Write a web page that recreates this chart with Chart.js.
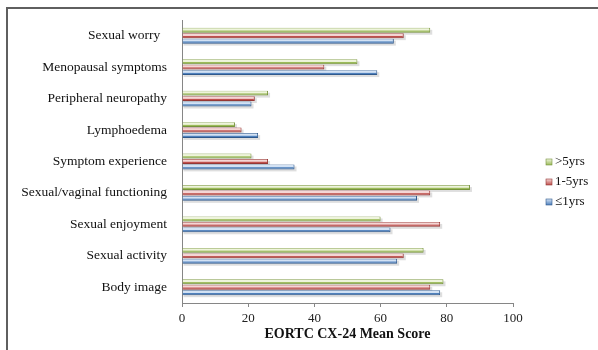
<!DOCTYPE html>
<html lang="en">
<head>
  <meta charset="UTF-8" />
  <title>EORTC CX-24</title>
  <script src="https://cdn.jsdelivr.net/npm/chart.js"></script>
  <style>
    html, body { margin: 0; padding: 0; background: #fff; }
    .quadro {
      position: absolute; left: 6px; top: 7px; width: 600px; height: 360px;
      border: 2px solid #5f5f5f; box-sizing: border-box;
    }
    .grafico { position: absolute; left: 0; top: 0; width: 598px; height: 350px; }
  </style>
</head>
<body>
  <div class="quadro"></div>
  <div class="grafico"><canvas id="graficoCx24" width="598" height="350"></canvas></div>

  <script>
    // categorias de cima para baixo
    var categorias = [
      'Sexual worry  ', 'Menopausal symptoms', 'Peripheral neuropathy', 'Lymphoedema',
      'Symptom experience', 'Sexual/vaginal functioning', 'Sexual enjoyment',
      'Sexual activity', 'Body image'
    ];
    var nomesSeries = ['>5yrs', '1-5yrs', '\u22641yrs'];

    var mais5anos = [75, 53, 26, 16, 21, 87, 60, 73, 79];
    var de1a5anos = [67, 43, 22, 18, 26, 75, 78, 67, 75];
    var ate1ano = [64, 59, 21, 23, 34, 71, 63, 65, 78];

    var ticksX = [0, 20, 40, 60, 80, 100];

    // cores: base, claro (brilho) e borda
    var cores = [
      { base: '#9bbb59', claro: '#eef4dc', borda: '#77933c' },
      { base: '#c0504d', claro: '#f4d6d5', borda: '#953735' },
      { base: '#4f81bd', claro: '#d3e2f4', borda: '#30598c' }
    ];

    var fonte = "'Liberation Serif', 'Times New Roman', serif";

    // brilho em cima de cada barra + sombra
    const brilhoBarras = {
      id: 'brilhoBarras',
      beforeDatasetsDraw(chart) {
        const ctx = chart.ctx;
        chart.data.datasets.forEach(function (ds, i) {
          chart.getDatasetMeta(i).data.forEach(function (el) {
            const p = el.getProps(['x', 'y', 'base', 'height'], true);
            ctx.save();
            ctx.fillStyle = 'rgba(0,0,0,0.13)';
            ctx.fillRect(p.base + 1, p.y - p.height / 2 + 2, p.x - p.base + 1, p.height);
            ctx.restore();
          });
        });
      },
      afterDatasetsDraw(chart) {
        const ctx = chart.ctx;
        chart.data.datasets.forEach(function (ds, i) {
          chart.getDatasetMeta(i).data.forEach(function (el) {
            const p = el.getProps(['x', 'y', 'base', 'height'], true);
            const topo = p.y - p.height / 2;
            ctx.save();
            ctx.fillStyle = cores[i].claro;
            ctx.fillRect(p.base + 0.5, topo + 0.5, p.x - p.base - 1.5, p.height * 0.45);
            ctx.restore();
          });
        });
      }
    };

    // legenda à direita
    const legendaDireita = {
      id: 'legendaDireita',
      afterDraw(chart) {
        const ctx = chart.ctx;
        ctx.save();
        ctx.font = '13px ' + fonte;
        ctx.textBaseline = 'middle';
        chart.data.datasets.forEach(function (ds, i) {
          const y = 162 + i * 20;
          const g = ctx.createLinearGradient(0, y - 3, 0, y + 3);
          g.addColorStop(0, cores[i].claro);
          g.addColorStop(1, cores[i].base);
          ctx.fillStyle = g;
          ctx.fillRect(546, y - 3, 6, 6);
          ctx.strokeStyle = cores[i].borda;
          ctx.lineWidth = 0.6;
          ctx.strokeRect(546, y - 3, 6, 6);
          ctx.fillStyle = '#111';
          ctx.fillText(ds.label, 555, y);
        });
        ctx.restore();
      }
    };

    var dados = {
      labels: categorias,
      datasets: [mais5anos, de1a5anos, ate1ano].map(function (serie, i) {
        return {
          label: nomesSeries[i],
          data: serie,
          backgroundColor: cores[i].base,
          borderColor: cores[i].borda,
          borderWidth: 1,
          categoryPercentage: 0.52,
          barPercentage: 0.9
        };
      })
    };

    const config = {
      type: 'bar',
      data: dados,
      options: {
        indexAxis: 'y',
        responsive: false,
        animation: false,
        layout: { padding: { top: 20, right: 85, bottom: 0, left: 0 } },
        plugins: {
          legend: { display: false },
          tooltip: { enabled: false }
        },
        scales: {
          x: {
            min: 0,
            max: 100,
            afterBuildTicks: function (scale) {
              scale.ticks = ticksX.map(function (v) { return { value: v }; });
            },
            afterFit: function (scale) { scale.height = 47; },
            grid: { drawOnChartArea: false, tickLength: 4, color: '#868686' },
            border: { display: true, color: '#868686' },
            ticks: { color: '#222', padding: 4, font: { family: fonte, size: 13 } },
            title: {
              display: true,
              text: 'EORTC CX-24 Mean Score',
              color: '#111',
              padding: { top: 0, bottom: 7 },
              font: { family: fonte, size: 14, weight: 'bold' }
            }
          },
          y: {
            afterFit: function (scale) { scale.width = 182; },
            grid: { display: false },
            border: { display: true, color: '#868686' },
            ticks: { color: '#111', padding: 7, font: { family: fonte, size: 13.5 } }
          }
        }
      },
      plugins: [brilhoBarras, legendaDireita]
    };

    var grafico = new Chart(document.getElementById('graficoCx24'), config);
  </script>
</body>
</html>
